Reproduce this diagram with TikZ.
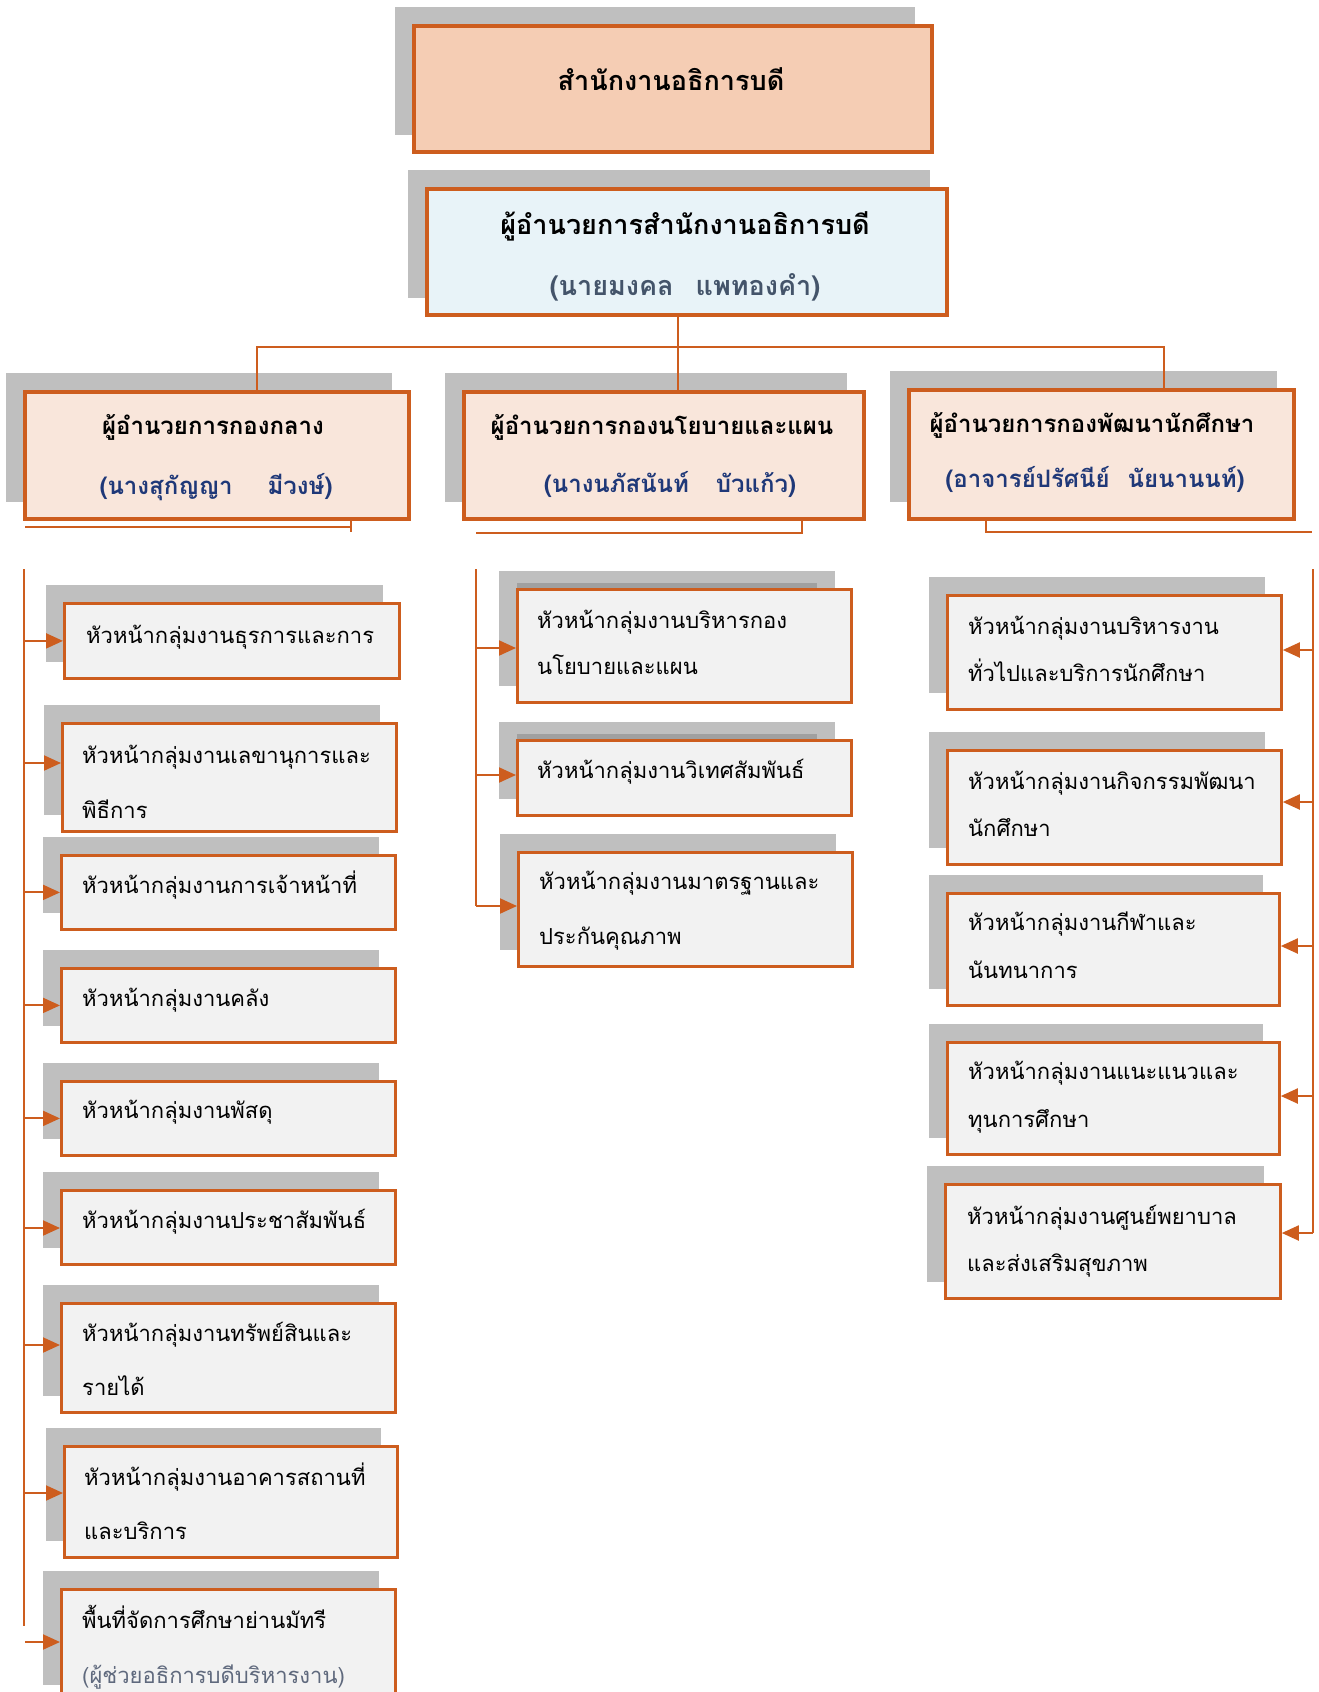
\documentclass[tikz,border=0pt]{standalone}
\usepackage{fontspec}
\newfontfamily\thai[Script=Thai]{Loma}
\usetikzlibrary{arrows.meta}
\definecolor{org}{RGB}{205,93,30}
\definecolor{shg}{RGB}{191,191,191}
\definecolor{shd}{RGB}{160,160,160}
\definecolor{topf}{RGB}{245,205,180}
\definecolor{dirf}{RGB}{232,243,248}
\definecolor{midf}{RGB}{249,230,219}
\definecolor{leaff}{RGB}{242,242,242}
\definecolor{navy}{RGB}{31,56,120}
\definecolor{slate}{RGB}{68,84,106}
\definecolor{slatel}{RGB}{95,105,125}
\newcommand\orgbox[7][]{%
  \fill[shg] ({#4-17},{#5-17}) rectangle ({#6-15},{#7-15});
  #1
  \node[#3, anchor=north west, minimum width={#6-#4}, minimum height={#7-#5}] (#2) at (#4,#5) {};}
\tikzset{
 box/.style={draw=org, inner sep=0pt},
 topbox/.style={box, fill=topf, line width=3.5pt},
 dirbox/.style={box, fill=dirf, line width=3.5pt},
 midbox/.style={box, fill=midf, line width=4pt},
 leafbox/.style={box, fill=leaff, line width=2.8pt},
 conn/.style={draw=org, line width=2pt},
 arr/.style={conn, -{Triangle[length=17pt,width=15pt]}},
 lt/.style={font=\thai\fontsize{22}{26}\selectfont, anchor=mid west, inner sep=0pt, yshift=-4pt},
 ht/.style={font=\thai\bfseries\fontsize{24}{28}\selectfont, anchor=mid, inner sep=0pt, yshift=-5pt},
 tt/.style={font=\thai\bfseries\fontsize{27}{32}\selectfont, anchor=mid, inner sep=0pt, yshift=-5pt},
}
\begin{document}
\begin{tikzpicture}[x=1pt,y=-1pt]
\useasboundingbox (0,0) rectangle (1318,1692);
\clip (0,0) rectangle (1318,1692);
% top levels
\orgbox{top}{topbox}{412}{24}{930}{150}
\node[tt] (ttop) at (671,83) {สำนักงานอธิการบดี};
\orgbox{dir}{dirbox}{425}{187}{945}{313}
\node[tt] (tdir1) at (685,227) {ผู้อำนวยการสำนักงานอธิการบดี};
\node[tt, text=slate] (tdir2) at (685,288) {(นายมงคล\hspace{22pt}แพทองคำ)};
% level 2
\orgbox{A}{midbox}{23}{390}{407}{517}
\orgbox{B}{midbox}{462}{390}{862}{517}
\orgbox{C}{midbox}{907}{388}{1292}{517}
\node[ht] (tA1) at (213,427) {ผู้อำนวยการกองกลาง};
\node[ht, text=navy] (tA2) at (216,487) {(นางสุกัญญา\hspace{35pt}มีวงษ์)};
\node[ht] (tB1) at (662,427) {ผู้อำนวยการกองนโยบายและแผน};
\node[ht, text=navy] (tB2) at (670,485) {(นางนภัสนันท์\hspace{27pt}บัวแก้ว)};
\node[ht] (tC1) at (1092,425) {ผู้อำนวยการกองพัฒนานักศึกษา};
\node[ht, text=navy] (tC2) at (1095,480) {(อาจารย์ปรัศนีย์\hspace{18pt}นัยนานนท์)};
% bus
\coordinate (bus) at (678,347);
\coordinate (busL) at (257,347);
\coordinate (busR) at (1164,347);
\draw[conn] (bus |- dir.south) -- (bus |- B.north);
\draw[conn] (busL |- A.north) -- (busL) -- (busR) -- (busR |- C.north);
% decorative lines under level 2
\coordinate (dA) at (351,527);
\draw[conn] (A.south -| dA) -- (351,532);
\draw[conn] (25,527) -- (dA);
\coordinate (dB) at (802,533);
\draw[conn] (B.south -| dB) -- (dB) -- (476,533);
\coordinate (dC) at (986,532);
\draw[conn] (C.south -| dC) -- (dC) -- (1312,532);
% left column
\orgbox{L1}{leafbox}{63}{602}{398}{677}
\orgbox{L2}{leafbox}{61}{722}{395}{830}
\orgbox{L3}{leafbox}{60}{854}{394}{928}
\orgbox{L4}{leafbox}{60}{967}{394}{1041}
\orgbox{L5}{leafbox}{60}{1080}{394}{1154}
\orgbox{L6}{leafbox}{60}{1189}{394}{1263}
\orgbox{L7}{leafbox}{60}{1302}{394}{1411}
\orgbox{L8}{leafbox}{63}{1445}{396}{1556}
\orgbox{L9}{leafbox}{60}{1588}{394}{1700}
\node[lt] (tL1) at (86,637) {หัวหน้ากลุ่มงานธุรการและการ};
\node[lt] (tL2a) at (82,757) {หัวหน้ากลุ่มงานเลขานุการและ};
\node[lt] (tL2b) at (82,812) {พิธีการ};
\node[lt] (tL3) at (82,887) {หัวหน้ากลุ่มงานการเจ้าหน้าที่};
\node[lt] (tL4) at (82,1000) {หัวหน้ากลุ่มงานคลัง};
\node[lt] (tL5) at (82,1112) {หัวหน้ากลุ่มงานพัสดุ};
\node[lt] (tL6) at (82,1222) {หัวหน้ากลุ่มงานประชาสัมพันธ์};
\node[lt] (tL7a) at (82,1335) {หัวหน้ากลุ่มงานทรัพย์สินและ};
\node[lt] (tL7b) at (82,1389) {รายได้};
\node[lt] (tL8a) at (84,1479) {หัวหน้ากลุ่มงานอาคารสถานที่};
\node[lt] (tL8b) at (84,1533) {และบริการ};
\node[lt] (tL9a) at (82,1622) {พื้นที่จัดการศึกษาย่านมัทรี};
\node[lt, text=slatel] (tL9b) at (82,1677) {(ผู้ช่วยอธิการบดีบริหารงาน)};
\coordinate (lt) at (24,569);
\coordinate (lb) at (24,1626);
\draw[conn] (lt) -- (lb);
\draw[arr] (lt |- L1.west) -- (L1.west);
\draw[arr] (lt |- 0,763) -- (L2.west |- 0,763);
\draw[arr] (lt |- L3.west) -- (L3.west);
\draw[arr] (lt |- L4.west) -- (L4.west);
\draw[arr] (lt |- L5.west) -- (L5.west);
\draw[arr] (lt |- 0,1228) -- (L6.west |- 0,1228);
\draw[arr] (lt |- 0,1345) -- (L7.west |- 0,1345);
\draw[arr] (lt |- 0,1493) -- (L8.west |- 0,1493);
\coordinate (l9s) at (25,1642);
\draw[arr] (l9s) -- (L9.west |- l9s);
% middle column
\orgbox[{\fill[shd] (517,583) rectangle (817,600);}]{M1}{leafbox}{516}{588}{850}{701}
\orgbox[{\fill[shd] (517,734) rectangle (817,750);}]{M2}{leafbox}{516}{739}{850}{814}
\orgbox{M3}{leafbox}{517}{851}{851}{965}
\node[lt] (tM1a) at (537,622) {หัวหน้ากลุ่มงานบริหารกอง};
\node[lt] (tM1b) at (537,668) {นโยบายและแผน};
\node[lt] (tM2) at (537,772) {หัวหน้ากลุ่มงานวิเทศสัมพันธ์};
\node[lt] (tM3a) at (539,883) {หัวหน้ากลุ่มงานมาตรฐานและ};
\node[lt] (tM3b) at (539,938) {ประกันคุณภาพ};
\coordinate (mt) at (476,569);
\coordinate (mb) at (476,906);
\draw[conn] (mt) -- (mb);
\draw[arr] (mt |- 0,648) -- (M1.west |- 0,648);
\draw[arr] (mt |- 0,775) -- (M2.west |- 0,775);
\draw[arr] (mb) -- (M3.west |- mb);
% right column
\orgbox{R1}{leafbox}{946}{594}{1280}{708}
\orgbox{R2}{leafbox}{946}{749}{1280}{863}
\orgbox{R3}{leafbox}{946}{892}{1278}{1004}
\orgbox{R4}{leafbox}{946}{1041}{1278}{1153}
\orgbox{R5}{leafbox}{944}{1183}{1279}{1297}
\node[lt] (tR1a) at (968,628) {หัวหน้ากลุ่มงานบริหารงาน};
\node[lt] (tR1b) at (968,675) {ทั่วไปและบริการนักศึกษา};
\node[lt] (tR2a) at (968,783) {หัวหน้ากลุ่มงานกิจกรรมพัฒนา};
\node[lt] (tR2b) at (968,830) {นักศึกษา};
\node[lt] (tR3a) at (968,924) {หัวหน้ากลุ่มงานกีฬาและ};
\node[lt] (tR3b) at (968,972) {นันทนาการ};
\node[lt] (tR4a) at (968,1073) {หัวหน้ากลุ่มงานแนะแนวและ};
\node[lt] (tR4b) at (968,1121) {ทุนการศึกษา};
\node[lt] (tR5a) at (967,1218) {หัวหน้ากลุ่มงานศูนย์พยาบาล};
\node[lt] (tR5b) at (967,1265) {และส่งเสริมสุขภาพ};
\coordinate (rt) at (1313,569);
\coordinate (rb) at (1313,1233);
\draw[conn] (rt) -- (rb);
\draw[arr] (rt |- 0,650) -- (R1.east |- 0,650);
\draw[arr] (rt |- 0,802) -- (R2.east |- 0,802);
\draw[arr] (rt |- 0,946) -- (R3.east |- 0,946);
\draw[arr] (rt |- 0,1096) -- (R4.east |- 0,1096);
\draw[arr] (rb) -- (R5.east |- rb);
\end{tikzpicture}
\end{document}
